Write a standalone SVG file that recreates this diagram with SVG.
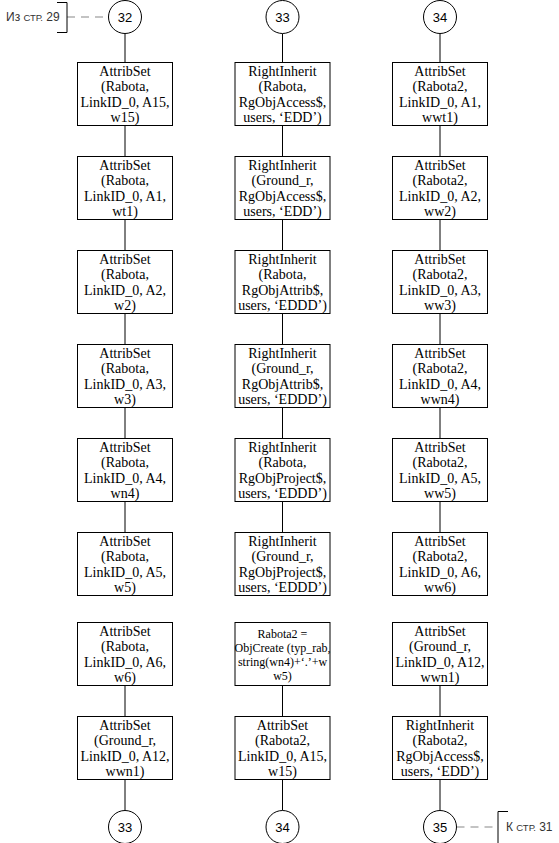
<svg xmlns="http://www.w3.org/2000/svg" width="559" height="843" viewBox="0 0 559 843">
<style>
.bx{fill:#fff;stroke:#000;stroke-width:1}
.ci{fill:#fff;stroke:#000;stroke-width:1}
.t{font-family:"Liberation Serif","Times New Roman",serif;font-size:14px;text-anchor:middle;fill:#000}
.ts{font-family:"Liberation Serif","Times New Roman",serif;font-size:12px;text-anchor:middle;fill:#000}
.cn{font-family:"Liberation Sans",Arial,sans-serif;font-size:13px;text-anchor:middle;fill:#000}
.ref{font-family:"Liberation Sans",Arial,sans-serif;font-size:12px;fill:#333}
.ln{stroke:#000;stroke-width:1;fill:none}
.ds{stroke:#888;stroke-width:1.2;stroke-dasharray:8 6;fill:none}
.br{stroke:#000;stroke-width:1;fill:none}
</style>
<g id="connectors">
<line class="ln" x1="125" y1="33.5" x2="125" y2="62.5"/>
<line class="ln" x1="125" y1="125.5" x2="125" y2="156.5"/>
<line class="ln" x1="125" y1="219.5" x2="125" y2="250.5"/>
<line class="ln" x1="125" y1="313.5" x2="125" y2="344.5"/>
<line class="ln" x1="125" y1="407.5" x2="125" y2="438.5"/>
<line class="ln" x1="125" y1="501.5" x2="125" y2="532.5"/>
<line class="ln" x1="125" y1="685.5" x2="125" y2="716.5"/>
<line class="ln" x1="125" y1="779.5" x2="125" y2="810.5"/>
<line class="ln" x1="282.5" y1="33.5" x2="282.5" y2="62.5"/>
<line class="ln" x1="282.5" y1="125.5" x2="282.5" y2="156.5"/>
<line class="ln" x1="282.5" y1="219.5" x2="282.5" y2="250.5"/>
<line class="ln" x1="282.5" y1="313.5" x2="282.5" y2="344.5"/>
<line class="ln" x1="282.5" y1="407.5" x2="282.5" y2="438.5"/>
<line class="ln" x1="282.5" y1="501.5" x2="282.5" y2="532.5"/>
<line class="ln" x1="282.5" y1="685.5" x2="282.5" y2="716.5"/>
<line class="ln" x1="282.5" y1="779.5" x2="282.5" y2="810.5"/>
<line class="ln" x1="440" y1="33.5" x2="440" y2="62.5"/>
<line class="ln" x1="440" y1="125.5" x2="440" y2="156.5"/>
<line class="ln" x1="440" y1="219.5" x2="440" y2="250.5"/>
<line class="ln" x1="440" y1="313.5" x2="440" y2="344.5"/>
<line class="ln" x1="440" y1="407.5" x2="440" y2="438.5"/>
<line class="ln" x1="440" y1="501.5" x2="440" y2="532.5"/>
<line class="ln" x1="440" y1="685.5" x2="440" y2="716.5"/>
<line class="ln" x1="440" y1="779.5" x2="440" y2="810.5"/>
<line class="ds" x1="67" y1="17" x2="108.5" y2="17"/>
<line class="ds" x1="456.5" y1="827" x2="498" y2="827"/>
</g>
<g id="ref-in">
<path class="br" d="M57,2.5 H67 V32.5 H57"/>
<text class="ref" x="6" y="21">Из <tspan font-size="9.5">СТР.</tspan> 29</text>
</g>
<g id="ref-out">
<path class="br" d="M508,811.5 H498 V843"/>
<text class="ref" x="506" y="831">К <tspan font-size="9.5">СТР.</tspan> 31</text>
</g>
<g id="c32"><circle class="ci" cx="125" cy="17" r="16.5"/><text class="cn" x="125" y="21.5">32</text></g>
<g id="c33t"><circle class="ci" cx="282.5" cy="17" r="16.5"/><text class="cn" x="282.5" y="21.5">33</text></g>
<g id="c34t"><circle class="ci" cx="440" cy="17" r="16.5"/><text class="cn" x="440" y="21.5">34</text></g>
<g id="c33b"><circle class="ci" cx="125" cy="827" r="16.5"/><text class="cn" x="125" y="831.5">33</text></g>
<g id="c34b"><circle class="ci" cx="282.5" cy="827" r="16.5"/><text class="cn" x="282.5" y="831.5">34</text></g>
<g id="c35b"><circle class="ci" cx="440" cy="827" r="16.5"/><text class="cn" x="440" y="831.5">35</text></g>

<g id="a1"><rect class="bx" x="77.5" y="62.5" width="95" height="63"/><text class="t" x="125" y="75.5">AttribSet</text><text class="t" x="125" y="91">(Rabota,</text><text class="t" x="125" y="106.5">LinkID_0, A15,</text><text class="t" x="125" y="122">w15)</text></g>
<g id="a2"><rect class="bx" x="77.5" y="156.5" width="95" height="63"/><text class="t" x="125" y="169.5">AttribSet</text><text class="t" x="125" y="185">(Rabota,</text><text class="t" x="125" y="200.5">LinkID_0, A1,</text><text class="t" x="125" y="216">wt1)</text></g>
<g id="a3"><rect class="bx" x="77.5" y="250.5" width="95" height="63"/><text class="t" x="125" y="263.5">AttribSet</text><text class="t" x="125" y="279">(Rabota,</text><text class="t" x="125" y="294.5">LinkID_0, A2,</text><text class="t" x="125" y="310">w2)</text></g>
<g id="a4"><rect class="bx" x="77.5" y="344.5" width="95" height="63"/><text class="t" x="125" y="357.5">AttribSet</text><text class="t" x="125" y="373">(Rabota,</text><text class="t" x="125" y="388.5">LinkID_0, A3,</text><text class="t" x="125" y="404">w3)</text></g>
<g id="a5"><rect class="bx" x="77.5" y="438.5" width="95" height="63"/><text class="t" x="125" y="451.5">AttribSet</text><text class="t" x="125" y="467">(Rabota,</text><text class="t" x="125" y="482.5">LinkID_0, A4,</text><text class="t" x="125" y="498">wn4)</text></g>
<g id="a6"><rect class="bx" x="77.5" y="532.5" width="95" height="63"/><text class="t" x="125" y="545.5">AttribSet</text><text class="t" x="125" y="561">(Rabota,</text><text class="t" x="125" y="576.5">LinkID_0, A5,</text><text class="t" x="125" y="592">w5)</text></g>
<g id="a7"><rect class="bx" x="77.5" y="622.5" width="95" height="63"/><text class="t" x="125" y="635.5">AttribSet</text><text class="t" x="125" y="651">(Rabota,</text><text class="t" x="125" y="666.5">LinkID_0, A6,</text><text class="t" x="125" y="682">w6)</text></g>
<g id="a8"><rect class="bx" x="77.5" y="716.5" width="95" height="63"/><text class="t" x="125" y="729.5">AttribSet</text><text class="t" x="125" y="745">(Ground_r,</text><text class="t" x="125" y="760.5">LinkID_0, A12,</text><text class="t" x="125" y="776">wwn1)</text></g>

<g id="b1"><rect class="bx" x="235" y="62.5" width="95" height="63"/><text class="t" x="282.5" y="75.5">RightInherit</text><text class="t" x="282.5" y="91">(Rabota,</text><text class="t" x="282.5" y="106.5">RgObjAccess$,</text><text class="t" x="282.5" y="122">users, ‘EDD’)</text></g>
<g id="b2"><rect class="bx" x="235" y="156.5" width="95" height="63"/><text class="t" x="282.5" y="169.5">RightInherit</text><text class="t" x="282.5" y="185">(Ground_r,</text><text class="t" x="282.5" y="200.5">RgObjAccess$,</text><text class="t" x="282.5" y="216">users, ‘EDD’)</text></g>
<g id="b3"><rect class="bx" x="235" y="250.5" width="95" height="63"/><text class="t" x="282.5" y="263.5">RightInherit</text><text class="t" x="282.5" y="279">(Rabota,</text><text class="t" x="282.5" y="294.5">RgObjAttrib$,</text><text class="t" x="282.5" y="310">users, ‘EDDD’)</text></g>
<g id="b4"><rect class="bx" x="235" y="344.5" width="95" height="63"/><text class="t" x="282.5" y="357.5">RightInherit</text><text class="t" x="282.5" y="373">(Ground_r,</text><text class="t" x="282.5" y="388.5">RgObjAttrib$,</text><text class="t" x="282.5" y="404">users, ‘EDDD’)</text></g>
<g id="b5"><rect class="bx" x="235" y="438.5" width="95" height="63"/><text class="t" x="282.5" y="451.5">RightInherit</text><text class="t" x="282.5" y="467">(Rabota,</text><text class="t" x="282.5" y="482.5">RgObjProject$,</text><text class="t" x="282.5" y="498">users, ‘EDDD’)</text></g>
<g id="b6"><rect class="bx" x="235" y="532.5" width="95" height="63"/><text class="t" x="282.5" y="545.5">RightInherit</text><text class="t" x="282.5" y="561">(Ground_r,</text><text class="t" x="282.5" y="576.5">RgObjProject$,</text><text class="t" x="282.5" y="592">users, ‘EDDD’)</text></g>
<g id="b7"><rect class="bx" x="235" y="622.5" width="95" height="63"/><text class="ts" x="282.5" y="638">Rabota2 =</text><text class="ts" x="282.5" y="652">ObjCreate (typ_rab,</text><text class="ts" x="282.5" y="666">string(wn4)+‘.’+w</text><text class="ts" x="282.5" y="680">w5)</text></g>
<g id="b8"><rect class="bx" x="235" y="716.5" width="95" height="63"/><text class="t" x="282.5" y="729.5">AttribSet</text><text class="t" x="282.5" y="745">(Rabota2,</text><text class="t" x="282.5" y="760.5">LinkID_0, A15,</text><text class="t" x="282.5" y="776">w15)</text></g>

<g id="c1"><rect class="bx" x="392.5" y="62.5" width="95" height="63"/><text class="t" x="440" y="75.5">AttribSet</text><text class="t" x="440" y="91">(Rabota2,</text><text class="t" x="440" y="106.5">LinkID_0, A1,</text><text class="t" x="440" y="122">wwt1)</text></g>
<g id="c2"><rect class="bx" x="392.5" y="156.5" width="95" height="63"/><text class="t" x="440" y="169.5">AttribSet</text><text class="t" x="440" y="185">(Rabota2,</text><text class="t" x="440" y="200.5">LinkID_0, A2,</text><text class="t" x="440" y="216">ww2)</text></g>
<g id="c3"><rect class="bx" x="392.5" y="250.5" width="95" height="63"/><text class="t" x="440" y="263.5">AttribSet</text><text class="t" x="440" y="279">(Rabota2,</text><text class="t" x="440" y="294.5">LinkID_0, A3,</text><text class="t" x="440" y="310">ww3)</text></g>
<g id="c4"><rect class="bx" x="392.5" y="344.5" width="95" height="63"/><text class="t" x="440" y="357.5">AttribSet</text><text class="t" x="440" y="373">(Rabota2,</text><text class="t" x="440" y="388.5">LinkID_0, A4,</text><text class="t" x="440" y="404">wwn4)</text></g>
<g id="c5"><rect class="bx" x="392.5" y="438.5" width="95" height="63"/><text class="t" x="440" y="451.5">AttribSet</text><text class="t" x="440" y="467">(Rabota2,</text><text class="t" x="440" y="482.5">LinkID_0, A5,</text><text class="t" x="440" y="498">ww5)</text></g>
<g id="c6"><rect class="bx" x="392.5" y="532.5" width="95" height="63"/><text class="t" x="440" y="545.5">AttribSet</text><text class="t" x="440" y="561">(Rabota2,</text><text class="t" x="440" y="576.5">LinkID_0, A6,</text><text class="t" x="440" y="592">ww6)</text></g>
<g id="c7"><rect class="bx" x="392.5" y="622.5" width="95" height="63"/><text class="t" x="440" y="635.5">AttribSet</text><text class="t" x="440" y="651">(Ground_r,</text><text class="t" x="440" y="666.5">LinkID_0, A12,</text><text class="t" x="440" y="682">wwn1)</text></g>
<g id="c8"><rect class="bx" x="392.5" y="716.5" width="95" height="63"/><text class="t" x="440" y="729.5">RightInherit</text><text class="t" x="440" y="745">(Rabota2,</text><text class="t" x="440" y="760.5">RgObjAccess$,</text><text class="t" x="440" y="776">users, ‘EDD’)</text></g>
</svg>
